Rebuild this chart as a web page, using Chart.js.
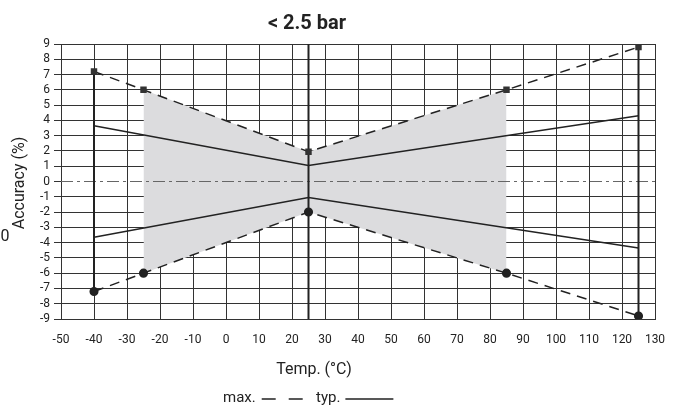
<!DOCTYPE html>
<html>
<head>
<meta charset="utf-8">
<script src="https://cdn.jsdelivr.net/npm/chart.js@4/dist/chart.umd.min.js"></script>
<style>
  html, body { margin: 0; padding: 0; background: #fff; }
  #wrap { width: 675px; height: 412px; position: relative; }
</style>
</head>
<body>
<div id="wrap"><canvas id="accChart" width="675" height="412"></canvas></div>
<script>
// data
const maxTemps = [-40, -25, 25, 85, 125];
const maxUpper = [7.2, 6.0, 1.95, 6.0, 8.8];
const maxLower = [-7.2, -6.0, -2.0, -6.0, -8.8];
const typTemps = [-40, 25, 125];
const typUpper = [3.65, 1.05, 4.3];
const typLower = [-3.65, -1.05, -4.35];
const shadeTemps = [-25, 25, 85];
const shadeUpper = [6.0, 1.95, 6.0];
const shadeLower = [-6.0, -2.0, -6.0];
const limitTemps = [-40, 25, 125];
const limitTop = [7.2, 9, 8.8];
const limitBottom = [-7.2, -9, -8.8];
const xMin = -50, xMax = 130, xStep = 10;
const yMin = -9, yMax = 9;

const FONT = "Roboto, 'Liberation Sans', sans-serif";
const INK = '#222';

const pts = (xs, ys) => xs.map((x, i) => ({ x: x, y: ys[i] }));

const datasets = [
    { data: pts(shadeTemps, shadeUpper), borderWidth: 0, pointRadius: 0, fill: '+1', backgroundColor: '#dcdcde', order: 10 },
    { data: pts(shadeTemps, shadeLower), borderWidth: 0, pointRadius: 0, fill: false, order: 10 },
    // zero reference line
    { data: [{ x: xMin, y: 0 }, { x: xMax, y: 0 }], borderColor: '#666', borderWidth: 1, borderDash: [12, 4, 3, 4], pointRadius: 0, order: 5 },
    { data: pts(typTemps, typUpper), borderColor: INK, borderWidth: 1.5, pointRadius: 0, order: 3 },
    { data: pts(typTemps, typLower), borderColor: INK, borderWidth: 1.5, pointRadius: 0, order: 3 },
    { data: pts(maxTemps, maxUpper), borderColor: INK, borderWidth: 1.5, borderDash: [10, 7], pointStyle: 'rect', pointRadius: 3.5, pointBackgroundColor: '#333', pointBorderColor: '#333', order: 1 },
    { data: pts(maxTemps, maxLower), borderColor: INK, borderWidth: 1.5, borderDash: [10, 7], pointStyle: 'circle', pointRadius: 3.8, pointBackgroundColor: INK, pointBorderColor: INK, order: 1 }
];
limitTemps.forEach((t, i) => {
    datasets.push({ data: [{ x: t, y: limitTop[i] }, { x: t, y: limitBottom[i] }], borderColor: INK, borderWidth: 2, pointRadius: 0, order: 2 });
});

const textPlugin = {
    id: 'texts',
    afterDraw(c) {
        const ctx = c.ctx;
        ctx.save();
        ctx.fillStyle = INK;
        ctx.textAlign = 'center';
        ctx.textBaseline = 'middle';
        ctx.font = 'bold 20px ' + FONT;
        ctx.fillText('< 2.5 bar', 307, 24);
        ctx.font = '16px ' + FONT;
        ctx.fillText('Temp. (°C)', 314, 370);
        ctx.fillText('0', 5, 237);
        ctx.save();
        ctx.translate(20, 183);
        ctx.rotate(-Math.PI / 2);
        ctx.fillText('Accuracy (%)', 0, 0);
        ctx.restore();
        // legend
        ctx.textAlign = 'left';
        ctx.font = '15px ' + FONT;
        const maxW = ctx.measureText('max.').width;
        const typW = ctx.measureText('typ.').width;
        const mx = 223, tx = 316;
        ctx.fillText('max.', mx, 398);
        ctx.fillText('typ.', tx, 398);
        ctx.strokeStyle = INK;
        ctx.lineWidth = 1.5;
        ctx.beginPath();
        const d0 = mx + maxW + 6;
        ctx.moveTo(d0, 399); ctx.lineTo(d0 + 14, 399);
        ctx.moveTo(d0 + 27, 399); ctx.lineTo(d0 + 41, 399);
        const t0 = tx + typW + 5;
        ctx.moveTo(t0, 399); ctx.lineTo(t0 + 48, 399);
        ctx.stroke();
        ctx.restore();
    }
};

new Chart(document.getElementById('accChart'), {
    type: 'scatter',
    data: { datasets: datasets },
    options: {
        responsive: false,
        animation: false,
        showLine: true,
        layout: { padding: { top: 44, right: 20, left: 0, bottom: 0 } },
        plugins: { legend: { display: false }, tooltip: { enabled: false } },
        elements: { line: { tension: 0 } },
        scales: {
            x: {
                type: 'linear', min: xMin, max: xMax,
                afterFit: (s) => { s.height = 93; s.paddingLeft = 0; s.paddingRight = 0; },
                ticks: { stepSize: xStep, color: INK, font: { family: FONT, size: 12 }, padding: 14, maxRotation: 0, autoSkip: false },
                grid: { color: '#333', lineWidth: 1, drawTicks: false },
                border: { color: '#333', width: 1 }
            },
            y: {
                min: yMin, max: yMax,
                afterFit: (s) => { s.width = 61; s.paddingTop = 0; s.paddingBottom = 0; },
                ticks: { stepSize: 1, color: INK, font: { family: FONT, size: 12 }, padding: 4, autoSkip: false },
                grid: {
                    color: (g) => (g.tick && g.tick.value === 0) ? 'rgba(0,0,0,0)' : '#333',
                    lineWidth: 1, tickLength: 7,
                    tickColor: '#333'
                },
                border: { color: '#333', width: 1 }
            }
        }
    },
    plugins: [textPlugin]
});
</script>
</body>
</html>
